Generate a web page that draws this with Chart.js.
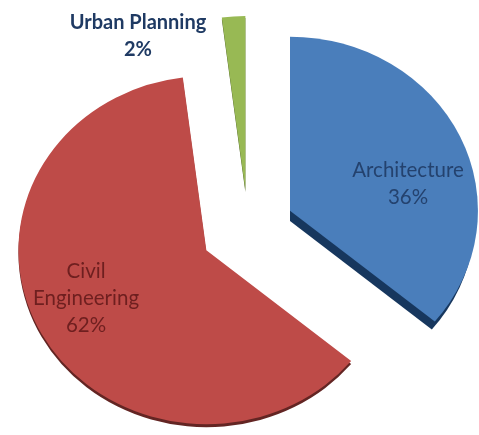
<!DOCTYPE html>
<html>
<head>
<meta charset="utf-8">
<style>html,body{margin:0;padding:0;background:#fff}#w{width:479px;height:435px;position:relative}</style>
<script src="https://cdn.jsdelivr.net/npm/chart.js@4"></script>
</head>
<body>
<div id="w"><canvas id="c" width="479" height="435"></canvas></div>
<script>
const categories = ['Architecture', 'Civil Engineering', 'Urban Planning'];
const shares = [36, 62, 2];
const sliceColors = ['#4A7EBB', '#BE4B48', '#98B954'];
const sideColors = ['#17375E', '#632523', '#4F6228'];
const labelLines = [['Architecture', '36%'], ['Civil', 'Engineering', '62%'], ['Urban Planning', '2%']];
const labelColors = ['#24426E', '#6E1F1F', '#1F3A63'];
const labelFonts = ['normal 20.5px Lato, sans-serif', 'normal 20.5px Lato, sans-serif', 'bold 20px Lato, sans-serif'];
const labelAnchors = [[408, 170], [86, 271], [138, 23]];
const sliceExplode = [43, 44, 39];
const sideDepthsY = [8, 3, 2];
const sideDepthsX = [-3, 0, 0];

const stretchX = 1.08;
const lineGap = 27;

const piePlugin = {
  id: 'pie3d',
  beforeDatasetDraw(chart, args) {
    const ctx = chart.ctx;
    const meta = chart.getDatasetMeta(args.index);
    meta.data.forEach((arc, i) => {
      const mid = (arc.startAngle + arc.endAngle) / 2;
      const dx = Math.cos(mid) * sliceExplode[i];
      const dy = Math.sin(mid) * sliceExplode[i];
      ctx.save();
      if (sideDepthsX[i] < 0) {
        const apexX = arc.x + dx * stretchX;
        ctx.beginPath();
        ctx.rect(apexX, 0, chart.width - apexX, chart.height);
        ctx.clip();
      }
      ctx.translate(arc.x, arc.y);
      ctx.scale(stretchX, 1);
      ctx.translate(dx, dy);
      ctx.translate(-arc.x, -arc.y);
      ctx.shadowColor = sideColors[i];
      ctx.shadowBlur = 0;
      ctx.shadowOffsetX = sideDepthsX[i];
      ctx.shadowOffsetY = sideDepthsY[i];
      arc.draw(ctx);
      ctx.restore();
    });
    return false;
  },
  afterDatasetsDraw(chart) {
    const ctx = chart.ctx;
    ctx.save();
    ctx.textAlign = 'center';
    ctx.textBaseline = 'middle';
    labelLines.forEach((lines, i) => {
      ctx.fillStyle = labelColors[i];
      ctx.font = labelFonts[i];
      lines.forEach((t, j) => ctx.fillText(t, labelAnchors[i][0], labelAnchors[i][1] + j * lineGap));
    });
    ctx.restore();
  }
};

new Chart(document.getElementById('c'), {
  type: 'pie',
  data: {
    labels: categories,
    datasets: [{
      data: shares,
      backgroundColor: sliceColors,
      borderWidth: 0
    }]
  },
  options: {
    responsive: false,
    animation: false,
    radius: 174,
    layout: { padding: { left: 17, top: 23 } },
    plugins: { legend: { display: false }, tooltip: { enabled: false }, title: { display: false } }
  },
  plugins: [piePlugin]
});
</script>
</body>
</html>
